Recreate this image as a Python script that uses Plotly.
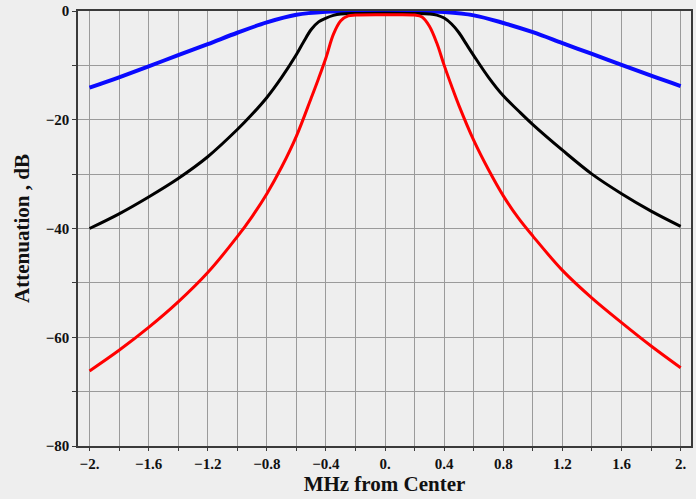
import plotly.graph_objects as go

# Filter attenuation responses, dB vs. offset from center frequency (MHz)
wide_x = [-2.0, -1.8, -1.6, -1.4, -1.2, -1.0, -0.8, -0.6, -0.4, -0.2, 0.0,
          0.2, 0.4, 0.6, 0.8, 1.0, 1.2, 1.4, 1.6, 1.8, 2.0]
wide_db = [-14.1, -12.2, -10.2, -8.1, -6.1, -4.0, -2.1, -0.7, -0.15, 0.0, 0.0,
           0.0, -0.2, -0.8, -2.2, -3.9, -5.9, -7.9, -9.9, -11.9, -13.8]

mid_x = [-2.0, -1.8, -1.6, -1.4, -1.2, -1.0, -0.9, -0.8, -0.7, -0.6, -0.55, -0.5,
         -0.45, -0.4, -0.35, -0.3, -0.2, 0.0, 0.2, 0.3, 0.35, 0.4, 0.45, 0.5,
         0.55, 0.6, 0.7, 0.8, 0.9, 1.0, 1.2, 1.4, 1.6, 1.8, 2.0]
mid_db = [-40.0, -37.3, -34.2, -30.8, -26.8, -21.8, -19.0, -15.9, -12.2, -8.0, -5.6, -3.4,
          -2.0, -1.3, -0.8, -0.55, -0.45, -0.4, -0.45, -0.55, -0.75, -1.3, -2.4, -4.0,
          -6.1, -8.2, -12.2, -15.6, -18.3, -20.9, -25.6, -30.0, -33.6, -36.8, -39.6]

narrow_x = [-2.0, -1.8, -1.6, -1.4, -1.2, -1.0, -0.9, -0.8, -0.7, -0.6, -0.5, -0.45,
            -0.4, -0.35, -0.3, -0.25, -0.2, 0.0, 0.2, 0.25, 0.3, 0.35, 0.4, 0.45,
            0.5, 0.6, 0.7, 0.8, 0.9, 1.0, 1.2, 1.4, 1.6, 1.8, 2.0]
narrow_db = [-66.2, -62.4, -58.2, -53.5, -48.1, -41.5, -37.8, -33.6, -28.7, -23.0, -16.0, -12.4,
             -8.6, -4.3, -1.8, -0.9, -0.75, -0.7, -0.75, -1.1, -2.8, -5.9, -10.0, -13.8,
             -17.4, -23.8, -29.2, -34.0, -38.0, -41.4, -47.7, -52.8, -57.3, -61.6, -65.6]

# Grid every 0.2 MHz / 10 dB, labels every 0.4 MHz / 20 dB
x_tick_vals = [-2.0, -1.8, -1.6, -1.4, -1.2, -1.0, -0.8, -0.6, -0.4, -0.2, 0.0,
               0.2, 0.4, 0.6, 0.8, 1.0, 1.2, 1.4, 1.6, 1.8, 2.0]
x_tick_text = ["\u22122.", "", "\u22121.6", "", "\u22121.2", "", "\u22120.8", "", "\u22120.4", "", "0.",
               "", "0.4", "", "0.8", "", "1.2", "", "1.6", "", "2."]
y_tick_vals = [0, -10, -20, -30, -40, -50, -60, -70, -80]
y_tick_text = ["0", "", "\u221220", "", "\u221240", "", "\u221260", "", "\u221280"]

BG = "#eeeeee"
GRID = "#9a9a9a"
FRAME = "#3a3a3a"
FONT = "Liberation Serif"

fig = go.Figure()
fig.add_trace(go.Scatter(x=wide_x, y=wide_db, mode="lines",
                         line=dict(color="#0a0aff", width=4, shape="spline", smoothing=1.0)))
fig.add_trace(go.Scatter(x=mid_x, y=mid_db, mode="lines",
                         line=dict(color="#000000", width=3, shape="spline", smoothing=1.0)))
fig.add_trace(go.Scatter(x=narrow_x, y=narrow_db, mode="lines",
                         line=dict(color="#ff0000", width=3, shape="spline", smoothing=1.0)))

fig.update_layout(
    width=696, height=499,
    margin=dict(l=78, r=3, t=11, b=53),
    paper_bgcolor=BG, plot_bgcolor=BG,
    showlegend=False,
    font=dict(family=FONT, color="#111111", size=15, weight="bold"),
)

fig.update_xaxes(
    range=[-2.078, 2.07],
    tickmode="array", tickvals=x_tick_vals, ticktext=x_tick_text,
    tickfont=dict(family=FONT, size=15, weight="bold"),
    showgrid=True, gridcolor=GRID, gridwidth=1,
    showline=True, linecolor=FRAME, linewidth=1.5, mirror=True,
    ticks="outside", ticklen=3, tickcolor=FRAME,
    zeroline=False,
    title=dict(text="MHz from Center", font=dict(family=FONT, size=21, weight="bold"), standoff=6),
)
fig.update_yaxes(
    range=[-80, 0],
    tickmode="array", tickvals=y_tick_vals, ticktext=y_tick_text,
    tickfont=dict(family=FONT, size=15, weight="bold"),
    showgrid=True, gridcolor=GRID, gridwidth=1,
    showline=True, linecolor=FRAME, linewidth=1.5, mirror=True,
    ticks="outside", ticklen=4, tickcolor=FRAME,
    zeroline=False,
    title=dict(text="Attenuation , dB", font=dict(family=FONT, size=21, weight="bold"), standoff=10),
)

fig.write_html("out.html")
